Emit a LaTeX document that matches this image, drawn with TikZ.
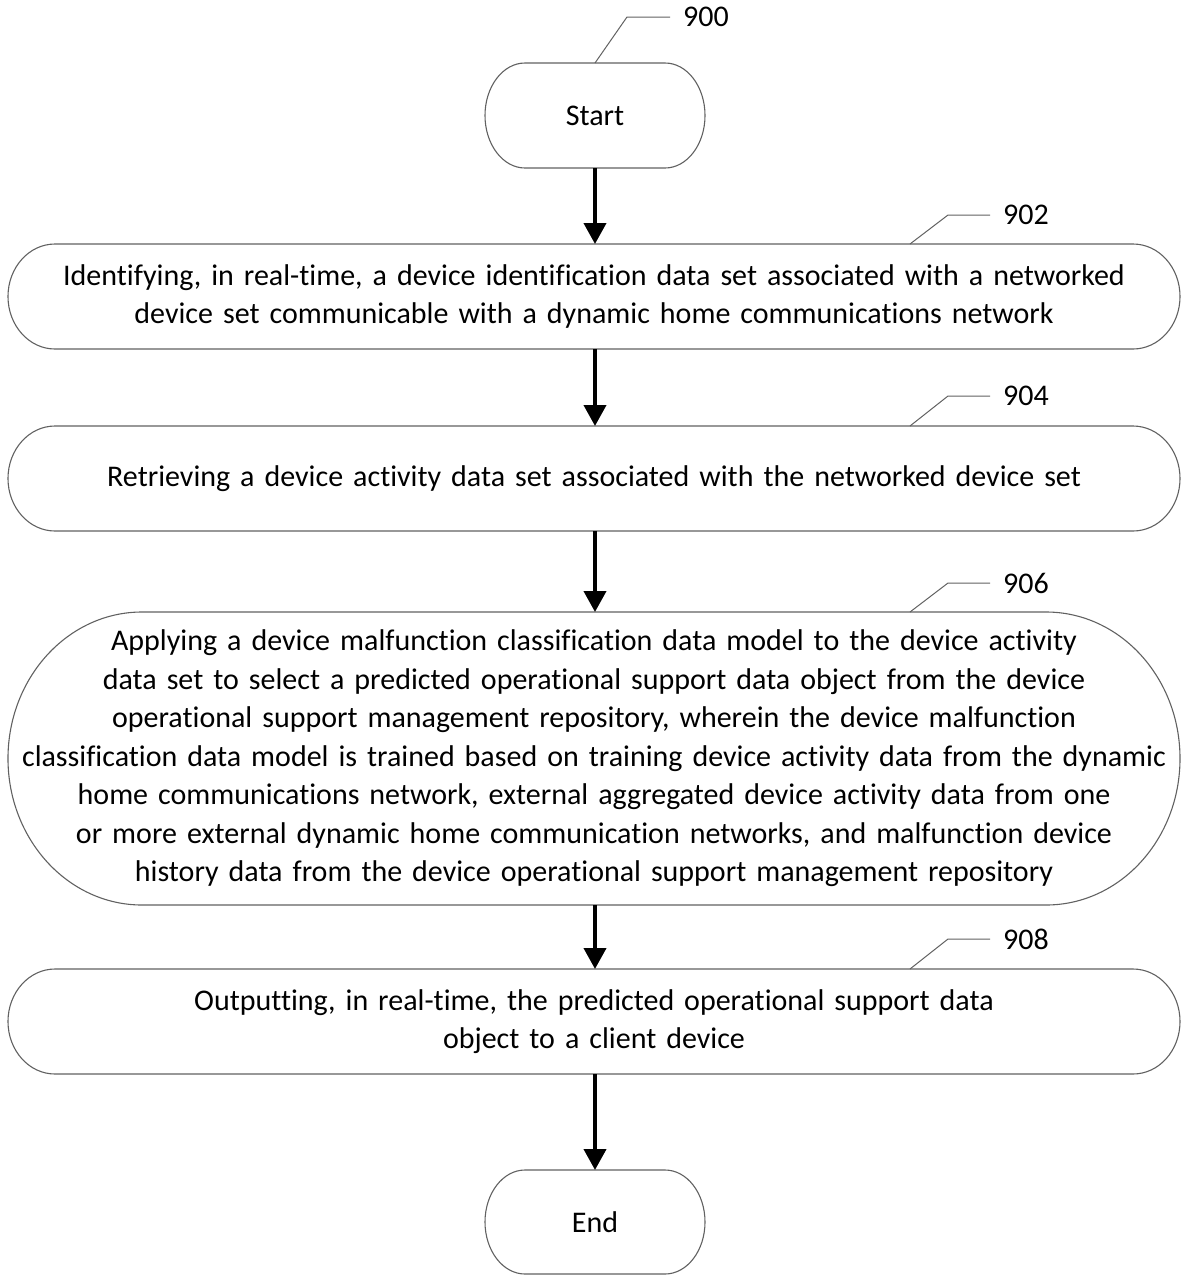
\documentclass[tikz,border=0pt]{standalone}
\usepackage{fontspec}
\setmainfont{Carlito}[Ligatures={NoCommon}]
\usetikzlibrary{arrows.meta}

\definecolor{edgegray}{gray}{0.38}

% Outline of a terminator-style box: flat top and bottom, half-elliptic ends.
% #1 node name, #2 horizontal radius of the end caps
\newcommand\termoutline[2]{%
  \draw[boxline]
    ([xshift=#2]#1.north west) -- ([xshift=-#2]#1.north east)
    arc[start angle=90, end angle=-90, x radius=#2, y radius=0.5*\pgfkeysvalueof{/tikz/termh}]
    -- ([xshift=#2]#1.south west)
    arc[start angle=270, end angle=90, x radius=#2, y radius=0.5*\pgfkeysvalueof{/tikz/termh}]
    -- cycle;}

\tikzset{
  termh/.initial=105bp,
  boxline/.style={draw=edgegray, line width=1.1bp},
  stepbox/.style={inner sep=0pt, outer sep=0pt, align=center,
    minimum width=#1, text width=#1,
    font=\fontsize{30bp}{38.5bp}\selectfont},
  flow/.style={line width=4bp, -{Triangle[length=21bp, width=22bp]}},
  leader/.style={draw=edgegray, line width=1bp},
  reflabel/.style={inner sep=0pt, anchor=west, font=\fontsize{30bp}{34bp}\selectfont},
}

\begin{document}
\begin{tikzpicture}[x=1bp, y=-1bp]
  \useasboundingbox (0,0) rectangle (1182,1275);

  % boxes
  \node[stepbox=220bp, minimum height=105bp] (s900) at (595,115.5) {Start};
  \node[stepbox=1172bp, minimum height=105bp] (s902) at (594,296.5)
    {Identifying, in real-time, a device identification data set associated with a networked\\
     device set communicable with a dynamic home communications network};
  \node[stepbox=1172bp, minimum height=105bp] (s904) at (594,478.5)
    {Retrieving a device activity data set associated with the networked device set};
  \node[stepbox=1172bp, minimum height=293bp] (s906) at (594,758.5)
    {Applying a device malfunction classification data model to the device activity\\
     data set to select a predicted operational support data object from the device\\
     operational support management repository, wherein the device malfunction\\
     classification data model is trained based on training device activity data from the dynamic\\
     home communications network, external aggregated device activity data from one\\
     or more external dynamic home communication networks, and malfunction device\\
     history data from the device operational support management repository};
  \node[stepbox=1172bp, minimum height=105bp] (s908) at (594,1021.5)
    {Outputting, in real-time, the predicted operational support data\\
     object to a client device};
  \node[stepbox=220bp, minimum height=104bp] (s910) at (595,1222)
    {End};

  \termoutline{s900}{40bp}
  \termoutline{s902}{47bp}
  \termoutline{s904}{47bp}
  \termoutline{s908}{47bp}
  \tikzset{termh=104bp}
  \termoutline{s910}{40bp}
  \tikzset{termh=293bp}
  \termoutline{s906}{134bp}

  % flow arrows
  \draw[flow] (s900.south) -- (s902.north -| s900.south);
  \draw[flow] (s902.south -| s900.south) -- (s904.north -| s900.south);
  \draw[flow] (s904.south -| s900.south) -- (s906.north -| s900.south);
  \draw[flow] (s906.south -| s900.south) -- (s908.north -| s900.south);
  \draw[flow] (s908.south -| s900.south) -- (s910.north);

  % reference numerals with leader lines
  \node[reflabel] (r900) at (683,17) {900};
  \node[reflabel] (r902) at (1003,215) {902};
  \node[reflabel] (r904) at (1003,396) {904};
  \node[reflabel] (r906) at (1003,583) {906};
  \node[reflabel] (r908) at (1003,939) {908};

  \draw[leader] (s900.north) -- ++(32,-46) -- ([xshift=-13bp]r900.west);
  \draw[leader] ([xshift=316bp]s902.north) -- ++(38,-29) -- ([xshift=-13bp]r902.west);
  \draw[leader] ([xshift=316bp]s904.north) -- ++(38,-30) -- ([xshift=-13bp]r904.west);
  \draw[leader] ([xshift=316bp]s906.north) -- ++(38,-29) -- ([xshift=-13bp]r906.west);
  \draw[leader] ([xshift=316bp]s908.north) -- ++(38,-30) -- ([xshift=-13bp]r908.west);
\end{tikzpicture}
\end{document}
